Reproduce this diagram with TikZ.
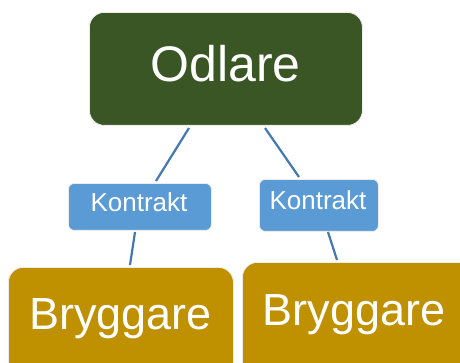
\documentclass[tikz,border=0pt]{standalone}
\usepackage{fontspec}
\setmainfont{Liberation Sans}
\definecolor{odgreen}{HTML}{3A5624}
\definecolor{kblue}{HTML}{5B9BD5}
\definecolor{bgold}{HTML}{BF9000}
\definecolor{lblue}{HTML}{4379B0}
\begin{document}
\begin{tikzpicture}[x=1pt,y=-1pt,
  box/.style={draw=white!85!gray,line width=0.8pt,inner sep=0pt,anchor=north west},
  conn/.style={draw=lblue,line width=2.2pt},
  lbl/.style={text=white,anchor=base,inner sep=0pt}]
\useasboundingbox (0,0) rectangle (460,363);
% boxes
\node[box,fill=odgreen,rounded corners=15pt,minimum width=273pt,minimum height=113pt] (odl) at (89,12) {};
\node[box,fill=kblue,rounded corners=6pt,minimum width=143pt,minimum height=47pt] (k1) at (68,183) {};
\node[box,fill=kblue,rounded corners=6pt,minimum width=119pt,minimum height=52pt] (k2) at (259,179) {};
\node[box,fill=bgold,rounded corners=15pt,minimum width=225pt,minimum height=110pt] (b1) at (8,267) {};
\node[box,fill=bgold,rounded corners=15pt,minimum width=235pt,minimum height=115pt] (b2) at (242,262) {};
% texts
\node[lbl,font=\fontsize{50}{50}\selectfont] (todl) at (225.5,82) {Odlare};
\node[lbl,font=\fontsize{26}{26}\selectfont] (tk1) at (139,212) {Kontrakt};
\node[lbl,font=\fontsize{26}{26}\selectfont] (tk2) at (318,210) {Kontrakt};
\node[lbl,font=\fontsize{45}{45}\selectfont] (tb1) at (120.5,329) {Bryggare};
\node[lbl,font=\fontsize{45}{45}\selectfont] (tb2) at (354,325) {Bryggare};
% connector end points
\coordinate (o1) at (189,128);
\coordinate (o2) at (265,128);
\coordinate (k1t) at (156,181);
\coordinate (k2t) at (299,177);
\coordinate (k1b) at (135,232);
\coordinate (k2b) at (328,232);
\coordinate (b1t) at (130,265);
\coordinate (b2t) at (337,260);
\draw[conn] (o1) -- (k1t);
\draw[conn] (o2) -- (k2t);
\draw[conn] (k1b) -- (b1t);
\draw[conn] (k2b) -- (b2t);
\end{tikzpicture}
\end{document}
